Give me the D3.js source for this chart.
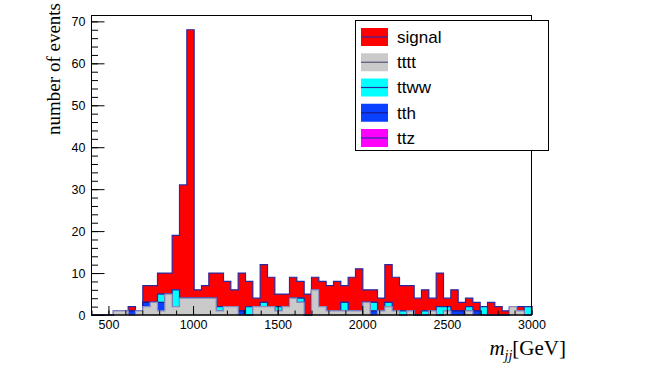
<!DOCTYPE html>
<html>
<head>
<meta charset="utf-8">
<script src="https://cdn.jsdelivr.net/npm/d3@7"></script>
<style>
  html, body { margin: 0; padding: 0; background: #ffffff; }
  svg { display: block; }
</style>
</head>
<body>
<svg id="chart" width="664" height="374"></svg>
<script>
// ---- histogram definition (60 bins, 400 - 3000 GeV) ----
const nBins = 60;
const xMin = 400;
const xMax = 3000;

// ---- per-bin event counts ----
const tttt   = [0,0,0,1,1,0,1,2,3,1, 5,2,4,4,4,4,4,1,2,2, 0,0,2,2,2,1,2,4,3,0, 6,2,1,1,1,1,1,3,0,1, 2,1,0,1,0,0,1,0,1,0, 0,1,0,0,0,0,0,2,1,0];
const tth    = [0,0,0,0,0,1,0,1,0,2, 0,0,0,0,0,0,0,0,0,0, 1,0,0,0,0,0,0,0,0,0, 0,0,0,0,0,0,0,0,1,0, 0,0,0,0,0,0,0,0,0,1, 1,0,1,0,0,0,0,0,0,0];
const ttww   = [0,0,0,0,0,0,0,0,0,2, 0,4,0,0,0,0,0,1,0,0, 0,2,0,1,0,1,0,0,1,0, 0,0,0,0,2,0,0,0,2,0, 1,0,1,0,0,1,0,2,1,0, 0,1,0,2,0,0,0,0,0,2];
const ttz    = [0,0,0,0,0,0,0,0,0,0, 0,0,0,0,0,0,0,0,0,0, 0,0,0,0,0,0,0,0,0,0, 0,0,0,0,0,0,0,0,0,0, 0,0,0,0,0,0,0,0,0,0, 0,0,0,0,0,0,0,0,0,0];
const signal = [0,0,0,0,0,1,0,4,4,5, 5,13,27,64,2,3,6,8,6,4, 9,6,2,9,7,3,3,5,4,5, 3,6,6,7,4,8,10,3,3,3, 9,8,6,6,4,5,3,8,2,5, 2,2,2,0,3,2,1,0,1,0];

// ---- ticks and labels ----
const xMajorTicks = [500, 1000, 1500, 2000, 2500, 3000];
const xMinorTicks = d3.range(400, 3001, 100);
const yMajorTicks = [0, 10, 20, 30, 40, 50, 60, 70];
const yMinorTicks = d3.range(0, 71, 2);
const yTitle = "number of events";
const legendLabels = ["signal", "tttt", "ttww", "tth", "ttz"];

// ---- styles ----
const layerKeys = ["tttt", "tth", "ttww", "ttz", "signal"]; // bottom -> top
const fills   = { signal: "#ff0000", tttt: "#cacaca", ttww: "#00ffff", tth: "#0a40ff", ttz: "#ff00ff" };
const strokes = { signal: "#2a2aa0", tttt: "#8c8cc0", ttww: "#2a2aa0", tth: "#1a1a90", ttz: "#2a2aa0" };
const series = { signal, tttt, ttww, tth, ttz };

const svg = d3.select("#chart");
const frame = { left: 91.5, right: 531.5, top: 15.5, bottom: 315 };

const binLow = d3.range(nBins).map(i => xMin + i * (xMax - xMin) / nBins);
const binW = (xMax - xMin) / nBins;

const x = d3.scaleLinear().domain([xMin, xMax]).range([frame.left, frame.right]);
const yMaxVal = 1.05 * d3.max(d3.range(nBins), i => layerKeys.reduce((s, k) => s + series[k][i], 0));
const y = d3.scaleLinear().domain([0, yMaxVal]).range([frame.bottom, frame.top]);

// table for the stack
const table = binLow.map((lo, i) => {
  const row = { lo };
  layerKeys.forEach(k => row[k] = series[k][i]);
  return row;
});
const stacked = d3.stack().keys(layerKeys)(table);

const area = d3.area().x(d => x(d.x)).y0(y(0)).y1(d => y(d.v));
const line = d3.line().x(d => x(d.x)).y(d => y(d.v));

function stepPoints(layer) {
  const pts = [];
  layer.forEach((d, i) => {
    pts.push({ x: d.data.lo, v: d[1] });
    pts.push({ x: d.data.lo + binW, v: d[1] });
  });
  return pts;
}

const plot = svg.append("g");
// draw cumulative layers, top-most (total) first
stacked.slice().reverse().forEach(layer => {
  const k = layer.key;
  const pts = stepPoints(layer);
  plot.append("path").attr("d", area(pts)).attr("fill", fills[k]).attr("stroke", "none");
  const outline = [{ x: xMin, v: 0 }].concat(pts).concat([{ x: xMax, v: 0 }]);
  plot.append("path").attr("d", line(outline)).attr("fill", "none")
    .attr("stroke", strokes[k]).attr("stroke-width", 1.2);
});

// frame
svg.append("rect")
  .attr("x", frame.left).attr("y", frame.top)
  .attr("width", frame.right - frame.left).attr("height", frame.bottom - frame.top)
  .attr("fill", "none").attr("stroke", "#000").attr("stroke-width", 1);

// axes
const tickFont = "'Liberation Sans', Arial, sans-serif";
const gx = svg.append("g").attr("transform", `translate(0,${frame.bottom})`)
  .call(d3.axisBottom(x).tickValues(xMajorTicks).tickSize(-9).tickPadding(5).tickFormat(d3.format("d")));
const gxm = svg.append("g").attr("transform", `translate(0,${frame.bottom})`)
  .call(d3.axisBottom(x).tickValues(xMinorTicks).tickSize(-4.5).tickFormat(""));
const gy = svg.append("g").attr("transform", `translate(${frame.left},0)`)
  .call(d3.axisLeft(y).tickValues(yMajorTicks).tickSize(-13).tickPadding(6).tickFormat(d3.format("d")));
const gym = svg.append("g").attr("transform", `translate(${frame.left},0)`)
  .call(d3.axisLeft(y).tickValues(yMinorTicks).tickSize(-6.5).tickFormat(""));
[gx, gxm, gy, gym].forEach(g => {
  g.select(".domain").remove();
  g.selectAll("line").attr("stroke", "#000").attr("stroke-width", 1);
  g.selectAll("text").attr("font-family", tickFont).attr("font-size", 12.5).attr("fill", "#000");
});
svg.append("line").attr("x1", frame.left).attr("x2", frame.right)
  .attr("y1", frame.bottom).attr("y2", frame.bottom).attr("stroke", "#000");

// axis titles
svg.append("text")
  .attr("transform", "translate(60,3) rotate(-90)")
  .attr("text-anchor", "end")
  .attr("font-family", "'Liberation Serif', 'Times New Roman', serif")
  .attr("font-size", 19)
  .text(yTitle);

const xt = svg.append("text")
  .attr("x", 566).attr("y", 355)
  .attr("text-anchor", "end")
  .attr("font-family", "'Liberation Serif', 'Times New Roman', serif")
  .attr("font-size", 21);
xt.append("tspan").attr("font-style", "italic").text("m");
xt.append("tspan").attr("font-style", "italic").attr("font-size", 14).attr("dy", 5).text("jj");
xt.append("tspan").attr("dy", -5).text("[GeV]");

// legend
const leg = { x: 355.5, y: 20.5, w: 193, h: 130 };
svg.append("rect").attr("x", leg.x).attr("y", leg.y).attr("width", leg.w).attr("height", leg.h)
  .attr("fill", "#fff").attr("stroke", "#000").attr("stroke-width", 1);
const legKeys = ["signal", "tttt", "ttww", "tth", "ttz"];
const legY = d3.scalePoint().domain(legKeys).range([37, 138]);
legKeys.forEach((k, i) => {
  const cy = legY(k);
  svg.append("rect").attr("x", 361).attr("y", cy - 9).attr("width", 27).attr("height", 18)
    .attr("fill", fills[k]);
  svg.append("line").attr("x1", 361).attr("x2", 388).attr("y1", cy).attr("y2", cy)
    .attr("stroke", k === "tttt" ? "#555577" : strokes[k]).attr("stroke-width", 1.2);
  svg.append("text").attr("x", 397).attr("y", cy).attr("dy", "0.35em")
    .attr("font-family", tickFont).attr("font-size", 17)
    .text(legendLabels[i]);
});
</script>
</body>
</html>
